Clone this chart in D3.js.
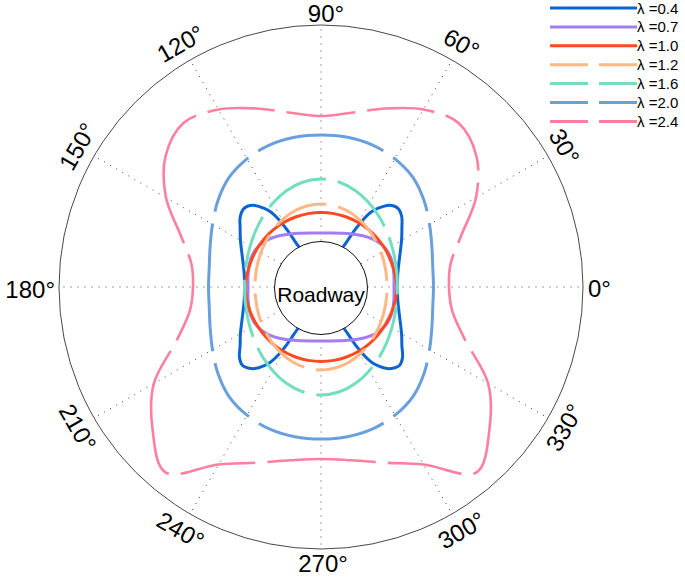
<!DOCTYPE html>
<html>
<head>
<meta charset="utf-8">
<script src="https://cdn.jsdelivr.net/npm/d3@7"></script>
<style>
  body { margin: 0; background: #fff; }
  text { font-family: "Liberation Sans", Arial, sans-serif; }
</style>
</head>
<body>
<svg id="chart" width="685" height="578"></svg>
<script>
// curves are symmetric about the 90-270 axis, so only the right half is read (theta -90..90 deg)
var angles = [-90, -80, -70, -60, -50, -40, -30, -20, -10, 0, 10, 20, 30, 40, 50, 60, 70, 80, 90];

var r07 = [0.54, 0.548, 0.572, 0.613, 0.666, 0.72, 0.754, 0.755, 0.74, 0.73, 0.74, 0.755, 0.754, 0.72, 0.666, 0.613, 0.572, 0.548, 0.54];
var r10 = [0.745, 0.745, 0.745, 0.745, 0.745, 0.745, 0.745, 0.75, 0.755, 0.76, 0.75, 0.745, 0.745, 0.745, 0.745, 0.745, 0.745, 0.745, 0.745];
var r12 = [0.83, 0.822, 0.803, 0.776, 0.744, 0.717, 0.693, 0.675, 0.664, 0.66, 0.664, 0.675, 0.693, 0.717, 0.744, 0.776, 0.803, 0.822, 0.83];
var r16 = [1.08, 1.064, 1.022, 0.966, 0.91, 0.859, 0.818, 0.788, 0.771, 0.765, 0.771, 0.788, 0.818, 0.859, 0.91, 0.966, 1.022, 1.064, 1.08];
var r20 = [1.52, 1.52, 1.51, 1.48, 1.43, 1.345, 1.253, 1.18, 1.135, 1.125, 1.135, 1.18, 1.253, 1.345, 1.43, 1.48, 1.51, 1.52, 1.52];
var r24 = [1.72, 1.76, 1.87, 2.05, 2.42, 2.2, 1.93, 1.53, 1.33, 1.28, 1.315, 1.49, 1.79, 2.03, 2.14, 2.05, 1.9, 1.77, 1.71];

// lambda = 0.4 has sharp lobes, read on a finer set of angles
var angles04 = [-90, -72, -64, -61, -59.5, -58, -56, -54, -51, -48, -45, -41, -36, -30, -20, -10, 0,
                10, 20, 30, 36, 41, 45, 48, 51, 54, 56, 58, 59.5, 61, 64, 72, 90];
var r04 = [0.29, 0.32, 0.38, 0.47, 0.64, 0.79, 0.91, 0.975, 1.05, 1.09, 1.11, 1.08, 1.0, 0.93, 0.835, 0.78, 0.765,
           0.78, 0.835, 0.93, 1.0, 1.07, 1.1, 1.09, 1.05, 0.975, 0.91, 0.79, 0.64, 0.47, 0.38, 0.32, 0.29];

var lambdas = ["0.4", "0.7", "1.0", "1.2", "1.6", "2.0", "2.4"];
var colors = ["#0b64d4", "#a47cf4", "#ff4a1f", "#ffb884", "#72ddbf", "#6a9fdd", "#ff7fa0"];
var dashed = [false, false, false, true, true, true, true];

// where the dashed curves have their gaps (deg)
var gaps12 = [35, 82, 130, 180, 215, 262, 310, 0];
var gaps16 = [40, 84, 126, 170, 220, 264, 306, 350];
var gaps20 = [33, 63, 117, 147, 213, 243, 297, 327];
var gaps24 = [16, 35, 55.5, 77, 103, 124.5, 164, 201.6, 232, 251, 289, 308, 338];

var tickAngles = [0, 30, 60, 90, 120, 150, 180, 210, 240, 270, 300, 330];

var series = [
  {ang: angles04, r: r04, gaps: null},
  {ang: angles, r: r07, gaps: null},
  {ang: angles, r: r10, gaps: null},
  {ang: angles, r: r12, gaps: gaps12},
  {ang: angles, r: r16, gaps: gaps16},
  {ang: angles, r: r20, gaps: gaps20},
  {ang: angles, r: r24, gaps: gaps24}
];

var cx = 321, cy = 287, R = 262, rRoad = 46.5;
var svg = d3.select("#chart");
var rScale = d3.scaleLinear().domain([0, 2.62]).range([0, R]);
var rad = function (deg) { return deg * Math.PI / 180; };

var g = svg.append("g").attr("transform", "translate(" + cx + "," + cy + ")");

// outer ring
g.append("circle").attr("r", R).attr("fill", "none").attr("stroke", "#333").attr("stroke-width", 0.9);

// dotted spokes
g.selectAll(".spoke").data(tickAngles).enter().append("line")
  .attr("class", "spoke")
  .attr("x1", d => rRoad * Math.cos(rad(d))).attr("y1", d => -rRoad * Math.sin(rad(d)))
  .attr("x2", d => R * Math.cos(rad(d))).attr("y2", d => -R * Math.sin(rad(d)))
  .attr("stroke", "#444").attr("stroke-width", 1).attr("stroke-dasharray", "1,6");

// degree labels
tickAngles.forEach(function (a) {
  var t = g.append("text").attr("font-size", 24).attr("fill", "#000").text(a + "\u00b0");
  if (a === 0) {
    t.attr("x", R + 5).attr("y", 10).attr("text-anchor", "start");
  } else if (a === 180) {
    t.attr("x", -R - 4).attr("y", 11).attr("text-anchor", "end");
  } else if (a === 90) {
    t.attr("x", 5).attr("y", -R - 3).attr("text-anchor", "middle");
  } else if (a === 270) {
    t.attr("x", 2).attr("y", R + 23).attr("text-anchor", "middle");
  } else {
    var x = 281 * Math.cos(rad(a)), y = -281 * Math.sin(rad(a));
    var rot = a < 180 ? 90 - a : 270 - a;
    t.attr("text-anchor", "middle").attr("dominant-baseline", "central")
      .attr("transform", "translate(" + x + "," + y + ") rotate(" + rot + ")");
  }
});

function fullCurve(angs, rs) {
  var pts = angs.map(function (a, i) { return [a, rs[i]]; });
  for (var i = angs.length - 2; i >= 1; i--) pts.push([180 - angs[i], rs[i]]);
  return pts;
}

var line = d3.lineRadial()
  .angle(d => rad(90 - d[0]))
  .radius(d => rScale(d[1]))
  .curve(d3.curveCatmullRomClosed.alpha(0.5));

function dashFor(node, gaps, gw) {
  var L = node.getTotalLength(), N = 1500, samples = [];
  for (var i = 0; i <= N; i++) {
    var s = L * i / N, p = node.getPointAtLength(s);
    var a = Math.atan2(-p.y, p.x) * 180 / Math.PI;
    if (a < 0) a += 360;
    samples.push([s, a]);
  }
  var pos = gaps.map(function (ga) {
    var best = 0, bd = 1e9;
    samples.forEach(function (sa) {
      var d = Math.abs(((sa[1] - ga + 540) % 360) - 180);
      if (d < bd) { bd = d; best = sa[0]; }
    });
    return best;
  }).sort((a, b) => a - b);
  var arr = [];
  for (var k = 0; k < pos.length; k++) {
    var next = k < pos.length - 1 ? pos[k + 1] : pos[0] + L;
    arr.push(next - pos[k] - gw, gw);
  }
  return {array: arr.join(","), offset: L - (pos[0] + gw / 2)};
}

series.forEach(function (s, i) {
  var p = g.append("path")
    .attr("d", line(fullCurve(s.ang, s.r)))
    .attr("fill", "none")
    .attr("stroke", colors[i])
    .attr("stroke-width", i === 6 ? 2.6 : 3);
  if (s.gaps) {
    var da = dashFor(p.node(), s.gaps, 12);
    p.attr("stroke-dasharray", da.array).attr("stroke-dashoffset", da.offset);
  }
});

// roadway
g.append("circle").attr("cx", 0).attr("cy", 1).attr("r", rRoad)
  .attr("fill", "#fff").attr("stroke", "#111").attr("stroke-width", 1);
g.append("text").attr("x", 0).attr("y", 15).attr("text-anchor", "middle")
  .attr("font-size", 21).text("Roadway");

// legend
var leg = svg.append("g").attr("transform", "translate(550,8)");
lambdas.forEach(function (l, i) {
  var y = i * 18.9;
  leg.append("line").attr("x1", 0).attr("x2", 87).attr("y1", y).attr("y2", y)
    .attr("stroke", colors[i]).attr("stroke-width", 3)
    .attr("stroke-dasharray", dashed[i] ? "38,11" : null);
  leg.append("text").attr("x", 87).attr("y", y + 5.5).attr("font-size", 15).text("\u03bb =" + l);
});
</script>
</body>
</html>
